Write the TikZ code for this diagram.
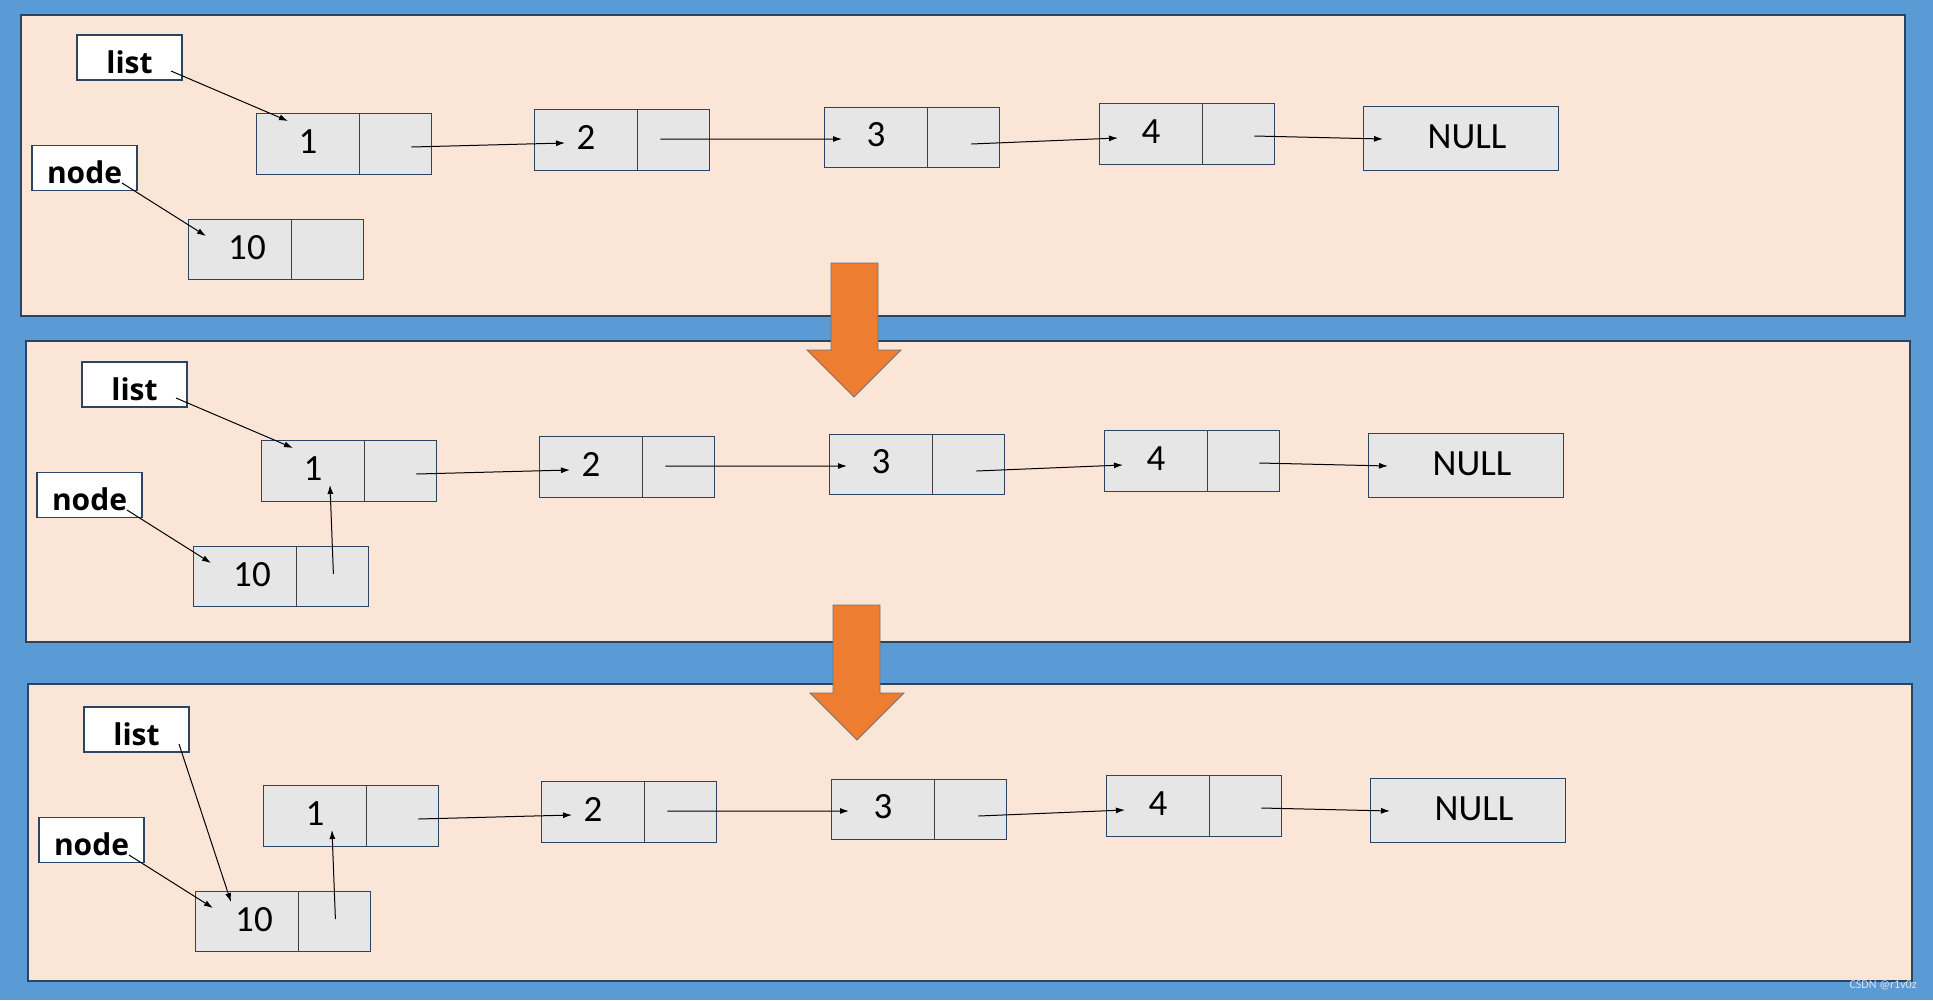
\documentclass[tikz,border=0pt]{standalone}
\usepackage{fontspec}
\setmainfont{Carlito}
\newfontfamily\lblfont{Open Sans}
\usetikzlibrary{arrows.meta}
\definecolor{bgblue}{HTML}{5B9BD5}
\definecolor{panelfill}{HTML}{FBE5D6}
\definecolor{edgecol}{HTML}{2A4462}
\definecolor{cellfill}{HTML}{E6E6E6}
\definecolor{orangearrow}{HTML}{ED7D31}
\tikzset{
  panel/.style={draw=edgecol, line width=1.3bp, fill=panelfill},
  cell/.style={fill=cellfill, minimum height=60bp, inner sep=0pt,
    font=\fontsize{37bp}{40bp}\selectfont, text height=18bp, text depth=0bp},
  datacell/.style={cell, minimum width=102bp},
  ptrcell/.style={cell, minimum width=72bp, anchor=west},
  boxedge/.style={draw=edgecol, line width=1.1bp},
  divider/.style={draw=black!75, line width=1bp},
  varbox/.style={draw=edgecol, line width=1.1bp, fill=white, minimum width=105bp, minimum height=45bp,
    inner sep=0pt, font=\lblfont\bfseries\fontsize{30bp}{34bp}\selectfont, text height=31bp, text depth=0bp},
  link/.style={line width=1bp, -{Latex[length=9bp,width=6bp]}},
  bigarrow/.style={fill=orangearrow, draw=black!55, line width=0.9bp}
}
\newcommand\twocell[5]{% #1 data name, #2 ptr name, #3 position, #4 text, #5 extra text options
  \node[datacell,#5] (#1) at #3 {#4};
  \node[ptrcell] (#2) at (#1.east) {};
  \draw[boxedge] (#1.north west) rectangle (#2.south east);
  \draw[divider] (#1.north east) -- (#1.south east);
}
\newcommand\chainpanel[1]{%
  \node[varbox] (list#1) at (129.5,57.5) {list};
  \node[varbox] (var#1) at (84.5,168) {node};
  \twocell{na#1}{pa#1}{(308,144)}{1}{}
  \twocell{nb#1}{pb#1}{(586,140)}{2}{}
  \twocell{nc#1}{pc#1}{(876,137.5)}{3}{}
  \twocell{nd#1}{pd#1}{(1151,134)}{4}{}
  \twocell{nt#1}{pt#1}{(240,249.5)}{\hspace{14bp}10}{text height=20bp}
  \node[cell, minimum width=194bp, minimum height=63bp, text height=20bp] (nul#1) at (1461,138.5) {\hspace{12bp}NULL};
  \draw[boxedge] (nul#1.north west) rectangle (nul#1.south east);
  \draw[link] ([shift={(16,3)}]pa#1.center) -- ([shift={(-21,3)}]nb#1.center);
  \draw[link] ([shift={(-13,-1)}]pb#1.center) -- ([shift={(-34,1.5)}]nc#1.center);
  \draw[link] ([shift={(8,6.5)}]pc#1.center) -- ([shift={(-33,4)}]nd#1.center);
  \draw[link] ([shift={(16,2)}]pd#1.center) -- ([shift={(-78,0.5)}]nul#1.center);
  \draw[link] ([shift={(37.5,15)}]var#1.center) -- ([shift={(-34,-13.5)}]nt#1.center);
}
\begin{document}
\begin{tikzpicture}[x=1bp, y=-1bp]
  \useasboundingbox (0,0) rectangle (1933,1000);
  \fill[bgblue] (0,0) rectangle (1933,1000);
  % panels
  \draw[panel] (21,15) rectangle (1905,316);
  \draw[panel] (26,341) rectangle (1910,642);
  \draw[panel] (28,684) rectangle (1912,981);
  % panel 1
  \begin{scope}
    \chainpanel{a}
    \draw[link] ([shift={(41.5,13.5)}]lista.center) -- ([shift={(-20,-23)}]naa.center);
  \end{scope}
  % panel 2
  \begin{scope}[shift={(5,327)}]
    \chainpanel{b}
    \draw[link] ([shift={(41.5,13.5)}]listb.center) -- ([shift={(-20,-23)}]nab.center);
    \draw[link] ([shift={(1,-2.5)}]ptb.center) -- ([shift={(17,14)}]nab.center);
  \end{scope}
  % panel 3
  \begin{scope}[shift={(7,672)}]
    \chainpanel{c}
    \draw[link] ([shift={(42.5,14.5)}]listc.center) -- ([shift={(-16,-19.5)}]ntc.center);
    \draw[link] ([shift={(1,-2.5)}]ptc.center) -- ([shift={(17,14)}]nac.center);
  \end{scope}
  % big orange arrows
  \draw[bigarrow] (831,263) -- (878,263) -- (878,350) -- (901,350) -- (854,397) -- (807,350) -- (831,350) -- cycle;
  \draw[bigarrow] (833,605) -- (880,605) -- (880,693) -- (904,693) -- (857,740) -- (810,693) -- (833,693) -- cycle;
  % watermark
  \node[font=\fontsize{12bp}{14bp}\selectfont, text=white!75!bgblue, inner sep=0pt] (wm) at (1883,985) {CSDN @r1v0z};
\end{tikzpicture}
\end{document}
